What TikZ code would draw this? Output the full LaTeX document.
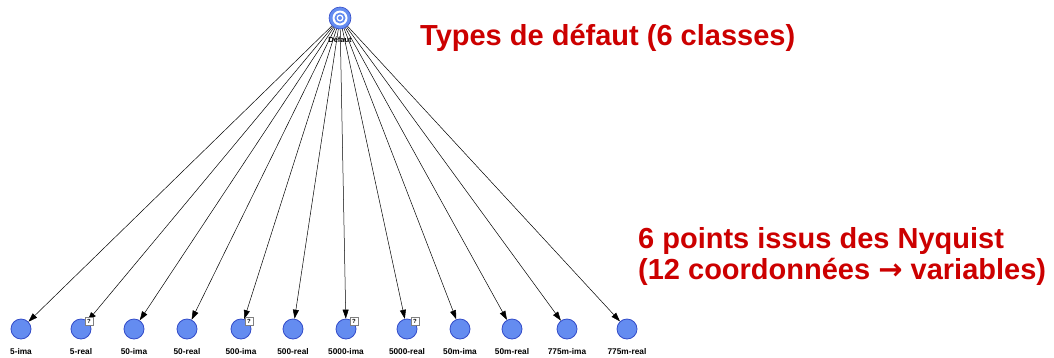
\documentclass[tikz,border=0pt]{standalone}
\usepackage{fontspec}
\setmainfont{Liberation Sans}
\newfontfamily\arrowfont{DejaVu Sans}
\usetikzlibrary{arrows.meta}
\definecolor{nodefill}{RGB}{100,140,240}
\definecolor{nodeline}{RGB}{50,75,200}
\definecolor{titlered}{RGB}{204,0,0}
\tikzset{
  leaf/.style={circle, fill=nodefill, draw=nodeline, line width=0.8pt, minimum size=20pt, inner sep=0pt},
  leaflabel/.style={font=\bfseries\fontsize{8.3}{9}\selectfont, inner sep=0pt},
  qbox/.style={draw=gray, fill=white, line width=0.4pt, minimum size=8pt, inner sep=0pt, font=\bfseries\fontsize{6}{6}\selectfont},
  link/.style={-{Triangle[length=9pt,width=6pt]}, line width=0.5pt, black},
  redtext/.style={text=titlered, font=\bfseries\fontsize{29}{31}\selectfont, inner sep=0pt, align=left}
}
\begin{document}
\begin{tikzpicture}[x=1pt,y=-1pt]
\useasboundingbox (0,0) rectangle (1054,357);
% root node
\node[circle, fill=nodefill, draw=nodeline, line width=0.6pt, minimum size=22pt, inner sep=0pt] (root) at (340,18) {};
\fill[white] (340,18) circle (7.5);
\fill[nodefill] (340,18) circle (5.5);
\fill[white] (340,18) circle (3.5);
\fill[nodefill] (340,18) circle (2);
\node[font=\bfseries\fontsize{7.5}{8}\selectfont, inner sep=0pt] (rootlabel) at (340,40) {Défaut};
% leaves
\foreach \i/\x/\lab/\q in {1/21/5-ima/0, 2/81/5-real/1, 3/134/50-ima/0, 4/187/50-real/0, 5/241/500-ima/1, 6/293/500-real/0, 7/346/5000-ima/1, 8/407/5000-real/1, 9/460/50m-ima/0, 10/512/50m-real/0, 11/567/775m-ima/0, 12/627/775m-real/0}{
  \node[leaf] (l\i) at (\x,329) {};
  \node[leaflabel] (t\i) at (\x,352) {\lab};
  \draw[link] (root) -- (l\i);
  \ifnum\q=1
    \node[qbox] (q\i) at ([xshift=8pt,yshift=8pt]l\i.center) {?};
  \fi
}
% titles
\node[redtext, anchor=west] (title1) at (420,38) {Types de défaut (6 classes)};
\node[redtext, anchor=west] (title2) at (638,256) {6 points issus des Nyquist\\(12 coordonnées {\arrowfont\bfseries →} variables)};
\end{tikzpicture}
\end{document}
